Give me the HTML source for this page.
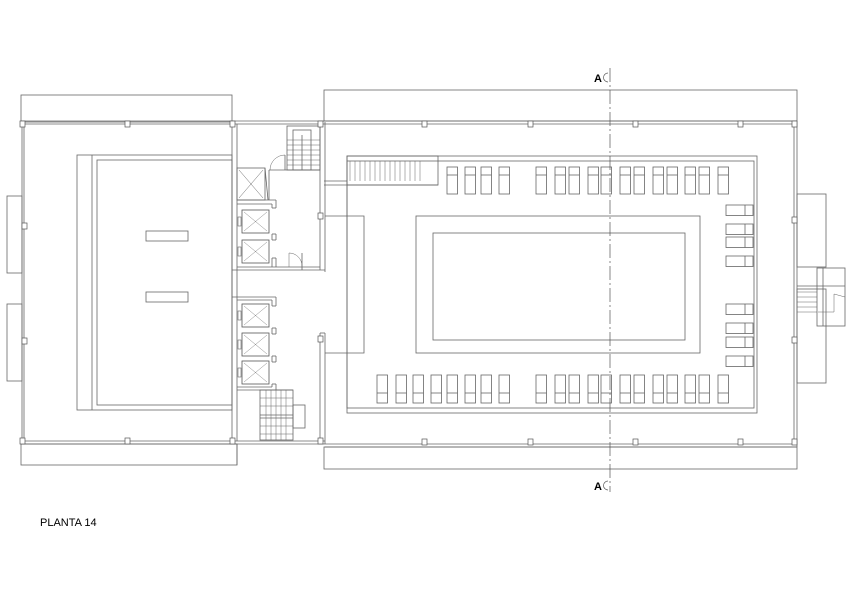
<!DOCTYPE html>
<html><head><meta charset="utf-8"><style>
html,body{margin:0;padding:0;background:#fff;}
svg{display:block;}
text{font-family:"Liberation Sans",sans-serif;}
</style></head><body>
<svg width="847" height="599" viewBox="0 0 847 599" xmlns="http://www.w3.org/2000/svg">
<defs>
<g id="lt"><rect x="0" y="0" width="10.5" height="27" fill="none" stroke="#666" stroke-width="0.8"/><line x1="0" y1="8" x2="10.5" y2="8" stroke="#666" stroke-width="0.8"/></g>
<g id="lb"><rect x="0" y="0" width="10.5" height="28" fill="none" stroke="#666" stroke-width="0.8"/><line x1="0" y1="18" x2="10.5" y2="18" stroke="#666" stroke-width="0.8"/></g>
<g id="lr"><rect x="0" y="0" width="27" height="10.5" fill="none" stroke="#666" stroke-width="0.8"/><line x1="19" y1="0" x2="19" y2="10.5" stroke="#666" stroke-width="0.8"/></g>
<g id="el"><rect x="0" y="0" width="27" height="23" fill="none" stroke="#555" stroke-width="0.8"/><line x1="2" y1="2" x2="25" y2="21" stroke="#888" stroke-width="0.5"/><line x1="25" y1="2" x2="2" y2="21" stroke="#888" stroke-width="0.5"/><rect x="-4" y="7" width="3" height="9" fill="none" stroke="#666" stroke-width="0.6"/></g>
<rect id="col" width="5" height="6" fill="#fff" stroke="#555" stroke-width="0.7"/>
</defs>
<g fill="none" stroke="#666" stroke-width="0.8">
<rect x="21" y="95" width="211" height="27"/>
<rect x="21" y="444" width="216" height="21"/>
<line x1="21" y1="121" x2="325" y2="121"/><line x1="21" y1="124" x2="325" y2="124"/>
<line x1="21" y1="441" x2="325" y2="441"/><line x1="21" y1="444" x2="325" y2="444"/>
<line x1="22" y1="122" x2="22" y2="444"/><line x1="24" y1="124" x2="24" y2="441"/>
<rect x="7" y="196" width="15" height="77"/>
<rect x="7" y="304" width="15" height="77"/>
<rect x="77" y="155" width="155" height="255"/>
<line x1="92" y1="155" x2="92" y2="410"/>
<rect x="97" y="160" width="135" height="245"/>
<rect x="146" y="231" width="42" height="10"/>
<rect x="146" y="292" width="42" height="10"/>
<line x1="232" y1="122" x2="232" y2="444"/><line x1="237" y1="124" x2="237" y2="441"/>
<line x1="320" y1="124" x2="320" y2="270"/><line x1="325" y1="122" x2="325" y2="272"/>
<line x1="237" y1="267" x2="320" y2="267"/><line x1="232" y1="270" x2="325" y2="270"/>
<rect x="287" y="126" width="33" height="44"/>
<rect x="293" y="130" width="18" height="40"/>
<line x1="302" y1="135" x2="302" y2="170"/>
<g stroke-width="0.5"><line x1="287" y1="140" x2="320" y2="140"/><line x1="287" y1="145" x2="320" y2="145"/><line x1="287" y1="150" x2="320" y2="150"/><line x1="287" y1="155" x2="320" y2="155"/><line x1="287" y1="160" x2="320" y2="160"/><line x1="287" y1="165" x2="320" y2="165"/></g>
<line x1="285" y1="155" x2="285" y2="170"/><path d="M285 155 A15 15 0 0 0 270 170" stroke-width="0.5"/>
<rect x="237" y="168" width="28" height="32"/>
<line x1="239" y1="170" x2="263" y2="198" stroke-width="0.5"/><line x1="263" y1="170" x2="239" y2="198" stroke-width="0.5"/>
<line x1="265" y1="168" x2="268" y2="200"/>
<line x1="269" y1="170" x2="320" y2="170"/><line x1="269" y1="170" x2="269" y2="200"/>
<line x1="237" y1="200" x2="276" y2="200"/><line x1="237" y1="204" x2="272" y2="204"/>
<line x1="276" y1="200" x2="276" y2="208"/><line x1="272" y1="204" x2="272" y2="208"/><line x1="272" y1="208" x2="276" y2="208"/>
<line x1="272" y1="234" x2="276" y2="234"/><line x1="272" y1="234" x2="272" y2="240"/><line x1="276" y1="234" x2="276" y2="240"/><line x1="272" y1="240" x2="276" y2="240"/>
<line x1="272" y1="258" x2="276" y2="258"/><line x1="272" y1="258" x2="272" y2="267"/><line x1="276" y1="258" x2="276" y2="267"/>
<path d="M289 267 L289 253 A13 13 0 0 1 302 266" stroke-width="0.5"/><line x1="302" y1="253" x2="302" y2="270"/>
<line x1="232" y1="297" x2="276" y2="297"/><line x1="237" y1="300" x2="272" y2="300"/>
<line x1="276" y1="297" x2="276" y2="306"/><line x1="272" y1="300" x2="272" y2="306"/><line x1="272" y1="306" x2="276" y2="306"/>
<line x1="272" y1="328" x2="276" y2="328"/><line x1="272" y1="328" x2="272" y2="334"/><line x1="276" y1="328" x2="276" y2="334"/><line x1="272" y1="334" x2="276" y2="334"/>
<line x1="272" y1="356" x2="276" y2="356"/><line x1="272" y1="356" x2="272" y2="362"/><line x1="276" y1="356" x2="276" y2="362"/><line x1="272" y1="362" x2="276" y2="362"/>
<line x1="272" y1="384" x2="276" y2="384"/><line x1="272" y1="384" x2="272" y2="387"/><line x1="276" y1="384" x2="276" y2="390"/>
<line x1="237" y1="387" x2="272" y2="387"/><line x1="237" y1="390" x2="293" y2="390"/>
<rect x="260" y="390" width="33" height="50"/>
<rect x="293" y="405" width="12" height="23"/>
<line x1="260" y1="415" x2="293" y2="415"/><line x1="260" y1="418" x2="293" y2="418"/>
<g stroke-width="0.5"><line x1="266" y1="390" x2="266" y2="440"/><line x1="271" y1="390" x2="271" y2="440"/><line x1="276" y1="390" x2="276" y2="440"/><line x1="281" y1="390" x2="281" y2="440"/><line x1="286" y1="390" x2="286" y2="440"/><line x1="260" y1="398" x2="293" y2="398"/><line x1="260" y1="406" x2="293" y2="406"/><line x1="260" y1="426" x2="293" y2="426"/><line x1="260" y1="434" x2="293" y2="434"/></g>
<line x1="320" y1="333" x2="320" y2="441"/><line x1="325" y1="333" x2="325" y2="444"/><line x1="320" y1="333" x2="325" y2="333"/>
<line x1="237" y1="444" x2="237" y2="465"/>
<rect x="324" y="90" width="473" height="31"/>
<rect x="324" y="447" width="473" height="22"/>
<line x1="325" y1="121" x2="797" y2="121"/><line x1="325" y1="124" x2="797" y2="124"/>
<line x1="325" y1="444" x2="797" y2="444"/><line x1="325" y1="447" x2="797" y2="447"/>
<line x1="797" y1="121" x2="797" y2="447"/><line x1="794" y1="124" x2="794" y2="444"/>
<rect x="797" y="194" width="29" height="73"/>
<rect x="797" y="289" width="29" height="94"/>
<rect x="817" y="268" width="28" height="58"/>
<line x1="823" y1="268" x2="823" y2="326"/><line x1="797" y1="286" x2="845" y2="286"/>
<g stroke-width="0.5"><line x1="797" y1="292" x2="817" y2="292"/><line x1="797" y1="297" x2="817" y2="297"/><line x1="797" y1="302" x2="817" y2="302"/><line x1="797" y1="307" x2="817" y2="307"/><line x1="797" y1="312" x2="817" y2="312"/><path d="M818 312 L834 312 L834 294 L845 297"/></g>
<rect x="347" y="156" width="410" height="257"/>
<rect x="347" y="161" width="407" height="247"/>
<rect x="347" y="156" width="91" height="29"/>
<line x1="324" y1="181" x2="347" y2="181"/><line x1="324" y1="185" x2="438" y2="185"/>
<g stroke-width="0.5"><line x1="350" y1="161" x2="350" y2="181"/><line x1="355" y1="161" x2="355" y2="181"/><line x1="360" y1="161" x2="360" y2="181"/><line x1="365" y1="161" x2="365" y2="181"/><line x1="370" y1="161" x2="370" y2="181"/><line x1="375" y1="161" x2="375" y2="181"/><line x1="380" y1="161" x2="380" y2="181"/><line x1="385" y1="161" x2="385" y2="181"/><line x1="390" y1="161" x2="390" y2="181"/><line x1="395" y1="161" x2="395" y2="181"/><line x1="400" y1="161" x2="400" y2="181"/><line x1="405" y1="161" x2="405" y2="181"/><line x1="410" y1="161" x2="410" y2="181"/><line x1="415" y1="161" x2="415" y2="181"/><line x1="420" y1="161" x2="420" y2="181"/></g>
<polyline points="325,216 364,216 364,353 325,353"/>
<rect x="416" y="216" width="284" height="137"/>
<rect x="433" y="233" width="252" height="107"/>
</g>
<g>
<use href="#col" x="20" y="121"/><use href="#col" x="125" y="121"/><use href="#col" x="230" y="121"/><use href="#col" x="318" y="121"/>
<use href="#col" x="20" y="438"/><use href="#col" x="125" y="438"/><use href="#col" x="230" y="438"/><use href="#col" x="318" y="438"/>
<use href="#col" x="22" y="223"/><use href="#col" x="22" y="338"/>
<use href="#col" x="422" y="121"/><use href="#col" x="528" y="121"/><use href="#col" x="633" y="121"/><use href="#col" x="738" y="121"/><use href="#col" x="792" y="121"/>
<use href="#col" x="422" y="439"/><use href="#col" x="528" y="439"/><use href="#col" x="633" y="439"/><use href="#col" x="738" y="439"/><use href="#col" x="792" y="439"/>
<use href="#col" x="792" y="217"/><use href="#col" x="792" y="337"/>
<use href="#col" x="318" y="213"/><use href="#col" x="318" y="336"/>
</g>
<use href="#el" x="242" y="210"/><use href="#el" x="242" y="240"/>
<use href="#el" x="242" y="304"/><use href="#el" x="242" y="333"/><use href="#el" x="242" y="361"/>
<g>
<use href="#lt" x="447" y="167"/><use href="#lt" x="465" y="167"/><use href="#lt" x="481" y="167"/><use href="#lt" x="499" y="167"/>
<use href="#lt" x="536" y="167"/><use href="#lt" x="555" y="167"/><use href="#lt" x="569" y="167"/><use href="#lt" x="588" y="167"/><use href="#lt" x="601" y="167"/><use href="#lt" x="620" y="167"/><use href="#lt" x="634" y="167"/><use href="#lt" x="653" y="167"/><use href="#lt" x="667" y="167"/><use href="#lt" x="685" y="167"/><use href="#lt" x="699" y="167"/><use href="#lt" x="718" y="167"/>
<use href="#lb" x="377" y="375"/><use href="#lb" x="396" y="375"/><use href="#lb" x="413" y="375"/><use href="#lb" x="431" y="375"/><use href="#lb" x="447" y="375"/><use href="#lb" x="465" y="375"/><use href="#lb" x="481" y="375"/><use href="#lb" x="499" y="375"/>
<use href="#lb" x="536" y="375"/><use href="#lb" x="555" y="375"/><use href="#lb" x="569" y="375"/><use href="#lb" x="588" y="375"/><use href="#lb" x="601" y="375"/><use href="#lb" x="620" y="375"/><use href="#lb" x="634" y="375"/><use href="#lb" x="653" y="375"/><use href="#lb" x="667" y="375"/><use href="#lb" x="685" y="375"/><use href="#lb" x="699" y="375"/><use href="#lb" x="718" y="375"/>
<use href="#lr" x="726" y="205"/><use href="#lr" x="726" y="224"/><use href="#lr" x="726" y="237"/><use href="#lr" x="726" y="256"/>
<use href="#lr" x="726" y="304"/><use href="#lr" x="726" y="323"/><use href="#lr" x="726" y="337"/><use href="#lr" x="726" y="356"/>
</g>
<line x1="610" y1="68" x2="610" y2="492" stroke="#555" stroke-width="0.7" stroke-dasharray="14,3,2,3"/>
<path d="M608 73 A4 4 0 0 0 608 82" fill="none" stroke="#555" stroke-width="0.7"/>
<path d="M608 481 A4 4 0 0 0 608 490" fill="none" stroke="#555" stroke-width="0.7"/>
<text x="594" y="82" font-size="11" font-weight="bold" fill="#000">A</text>
<text x="594" y="490" font-size="11" font-weight="bold" fill="#000">A</text>
<text x="40" y="526" font-size="11" fill="#000">PLANTA 14</text>
</svg>
</body></html>
